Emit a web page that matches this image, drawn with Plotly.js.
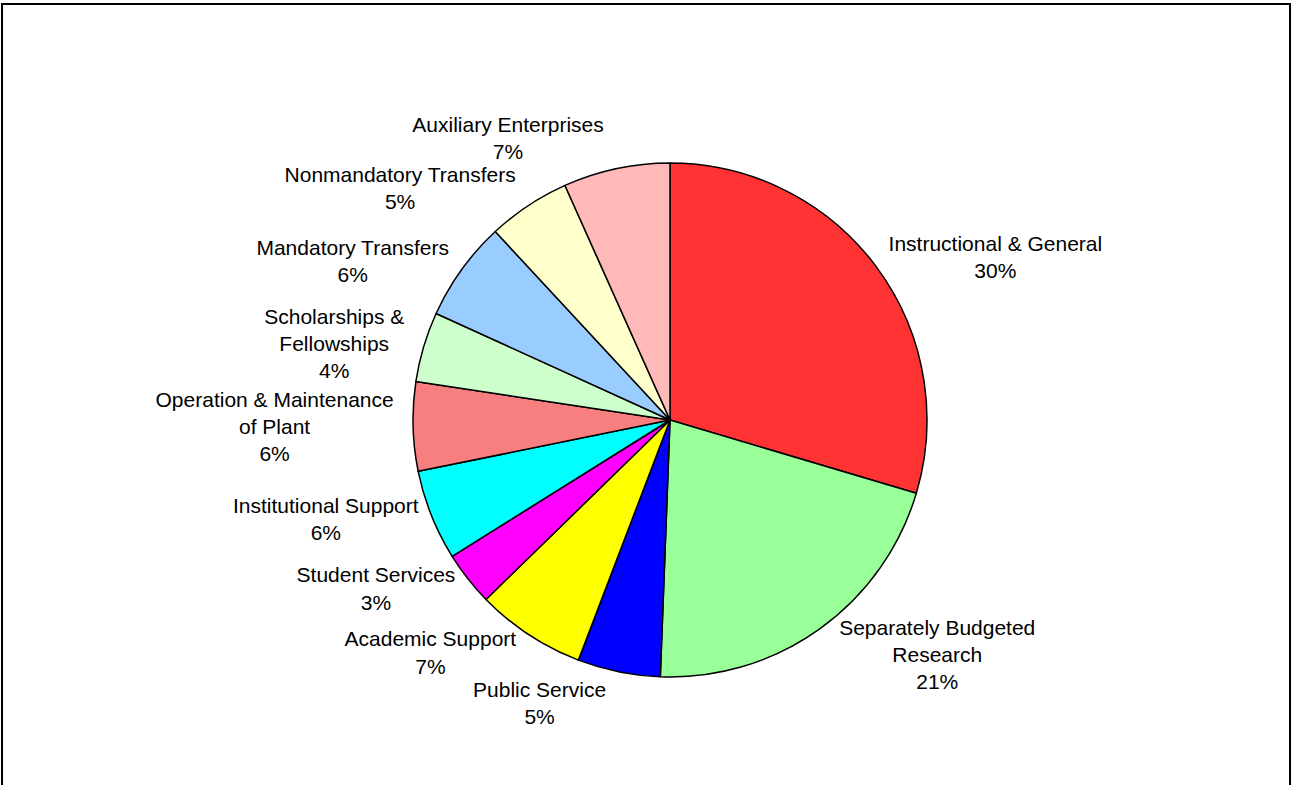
<!DOCTYPE html>
<html>
<head>
<meta charset="utf-8">
<script src="https://cdn.plot.ly/plotly-3.0.1.min.js"></script>
<style>
html,body{margin:0;padding:0;background:#fff;}
#chart{width:1292px;height:785px;}
.pielayer path.textline{display:none;}
</style>
</head>
<body>
<div id="chart"></div>
<script>
var categories = [
  "Instructional & General",
  "Separately Budgeted<br>Research",
  "Public Service",
  "Academic Support",
  "Student Services",
  "Institutional Support",
  "Operation & Maintenance<br>of Plant",
  "Scholarships &<br>Fellowships",
  "Mandatory Transfers",
  "Nonmandatory Transfers",
  "Auxiliary Enterprises"
];
var shares = [29.6, 21.0, 5.2, 6.9, 3.4, 5.7, 5.6, 4.4, 6.3, 5.2, 6.7];
var sliceColors = ["#FF3333", "#99FF99", "#0000FF", "#FFFF00", "#FF00FF", "#00FFFF",
                   "#F77F7F", "#CCFFCC", "#99CCFF", "#FFFFCC", "#FFB9B9"];

var W = 1292, H = 785, cx = 670, cy = 420, R = 257;
var FONT = "Liberation Sans, Arial, sans-serif";

var trace = {
  type: "pie",
  labels: categories,
  values: shares,
  sort: false,
  direction: "clockwise",
  rotation: 0,
  marker: {colors: sliceColors, line: {color: "#000", width: 1.5}},
  textposition: "outside",
  texttemplate: "%{label}<br>%{percent:.0%}",
  outsidetextfont: {family: FONT, size: 21, color: "#000"},
  textfont: {family: FONT, size: 21, color: "#000"},
  hoverinfo: "label+percent",
  showlegend: false,
  domain: {x: [(cx - R) / W, (cx + R) / W], y: [(H - cy - R) / H, (H - cy + R) / H]}
};

var layout = {
  width: W, height: H,
  margin: {l: 0, r: 0, t: 0, b: 0},
  paper_bgcolor: "#fff",
  font: {family: FONT, size: 21, color: "#000"},
  shapes: [{type: "rect", xref: "paper", yref: "paper", x0: 2 / W, x1: 1290 / W, y0: -0.01, y1: 1 - 4 / H,
            line: {color: "#000", width: 2}, fillcolor: "rgba(0,0,0,0)"}]
};

Plotly.newPlot("chart", [trace], layout, {displayModeBar: false, staticPlot: true});
</script>
</body>
</html>
